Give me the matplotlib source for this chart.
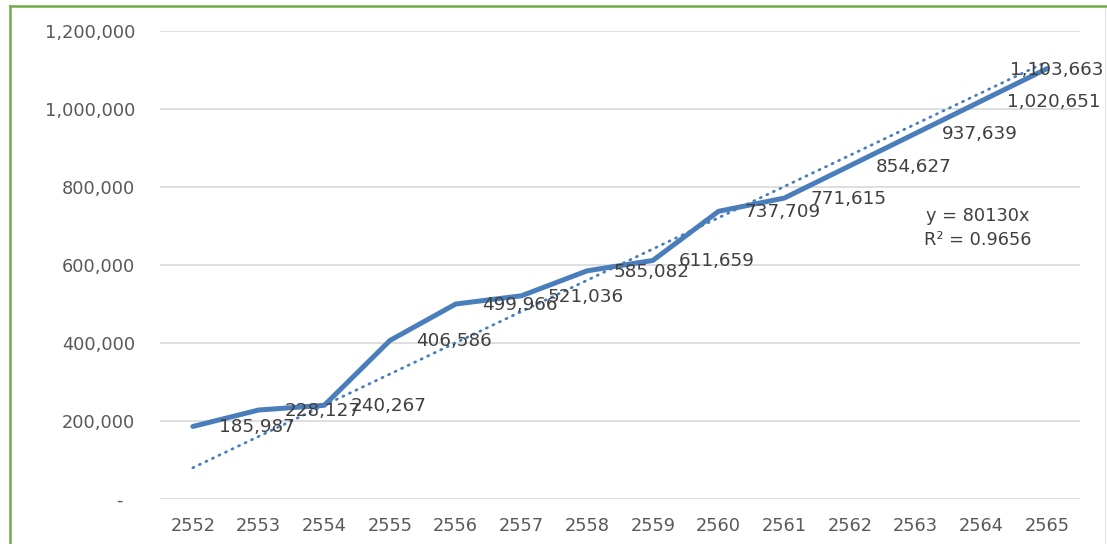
import matplotlib.pyplot as plt
from matplotlib.lines import Line2D
from matplotlib.ticker import FuncFormatter

years = ['2552', '2553', '2554', '2555', '2556', '2557', '2558',
         '2559', '2560', '2561', '2562', '2563', '2564', '2565']
values = [185987, 228127, 240267, 406586, 499966, 521036, 585082,
          611659, 737709, 771615, 854627, 937639, 1020651, 1103663]
trend_slope = 80130
trend_r2 = 0.9656

LINE_BLUE = '#4a7ebb'
GRID = '#d9d9d9'
TICK_GRAY = '#595959'
LABEL_GRAY = '#404040'
BORDER_GREEN = '#70ad47'

plt.rcParams['font.family'] = 'DejaVu Sans'

fig = plt.figure(figsize=(11.07, 5.44), dpi=100)
ax = fig.add_axes([160 / 1107, 1 - 499 / 544, 920 / 1107, 468 / 544])

xs = list(range(len(years)))
ax.plot(xs, values, color=LINE_BLUE, lw=3.6, solid_joinstyle='round',
        solid_capstyle='round', zorder=3)

# linear trendline through the origin, x counted from 1
trend = [trend_slope * (i + 1) for i in xs]
ax.plot(xs, trend, color=LINE_BLUE, lw=2.0, linestyle=(0, (0.4, 2.2)),
        dash_capstyle='round', zorder=4)

# value labels to the right of each point
for i, v in enumerate(values):
    if i == len(values) - 1:
        off, ha = (10, -1), 'center'
    else:
        off, ha = (26, -1), 'left'
    ax.annotate(f'{v:,}', (i, v), xytext=off, textcoords='offset pixels',
                ha=ha, va='center', fontsize=13.2, color=LABEL_GRAY,
                zorder=5)

ax.text(11.95, 725000, f'y = {trend_slope}x', ha='center', va='center',
        fontsize=12.8, color=LABEL_GRAY)
ax.text(11.95, 665000, f'R² = {trend_r2}', ha='center', va='center',
        fontsize=12.8, color=LABEL_GRAY)

ax.set_xlim(-0.5, len(years) - 0.5)
ax.set_ylim(0, 1200000)
ax.set_xticks(xs)
ax.set_xticklabels(years)
ax.set_yticks(range(0, 1200001, 200000))
ax.yaxis.set_major_formatter(
    FuncFormatter(lambda v, p: '-  ' if v == 0 else f'{int(v):,}'))
ax.tick_params(axis='both', length=0, labelsize=12.8, colors=TICK_GRAY)
ax.tick_params(axis='y', pad=18)
ax.tick_params(axis='x', pad=13)
ax.grid(axis='y', color=GRID, lw=1.2)
ax.set_axisbelow(True)
for s in ax.spines.values():
    s.set_visible(False)

# chart frame: green left and top edges, faint right edge
fig.add_artist(Line2D([9.5 / 1107, 9.5 / 1107], [0, 1 - 6 / 544],
                      color=BORDER_GREEN, lw=1.8))
fig.add_artist(Line2D([9.5 / 1107, 1], [1 - 6 / 544, 1 - 6 / 544],
                      color=BORDER_GREEN, lw=1.8))
fig.add_artist(Line2D([1105 / 1107, 1105 / 1107], [0, 1 - 8 / 544],
                      color='#e3e3e3', lw=0.8))

fig.savefig('out.png', dpi=100)
